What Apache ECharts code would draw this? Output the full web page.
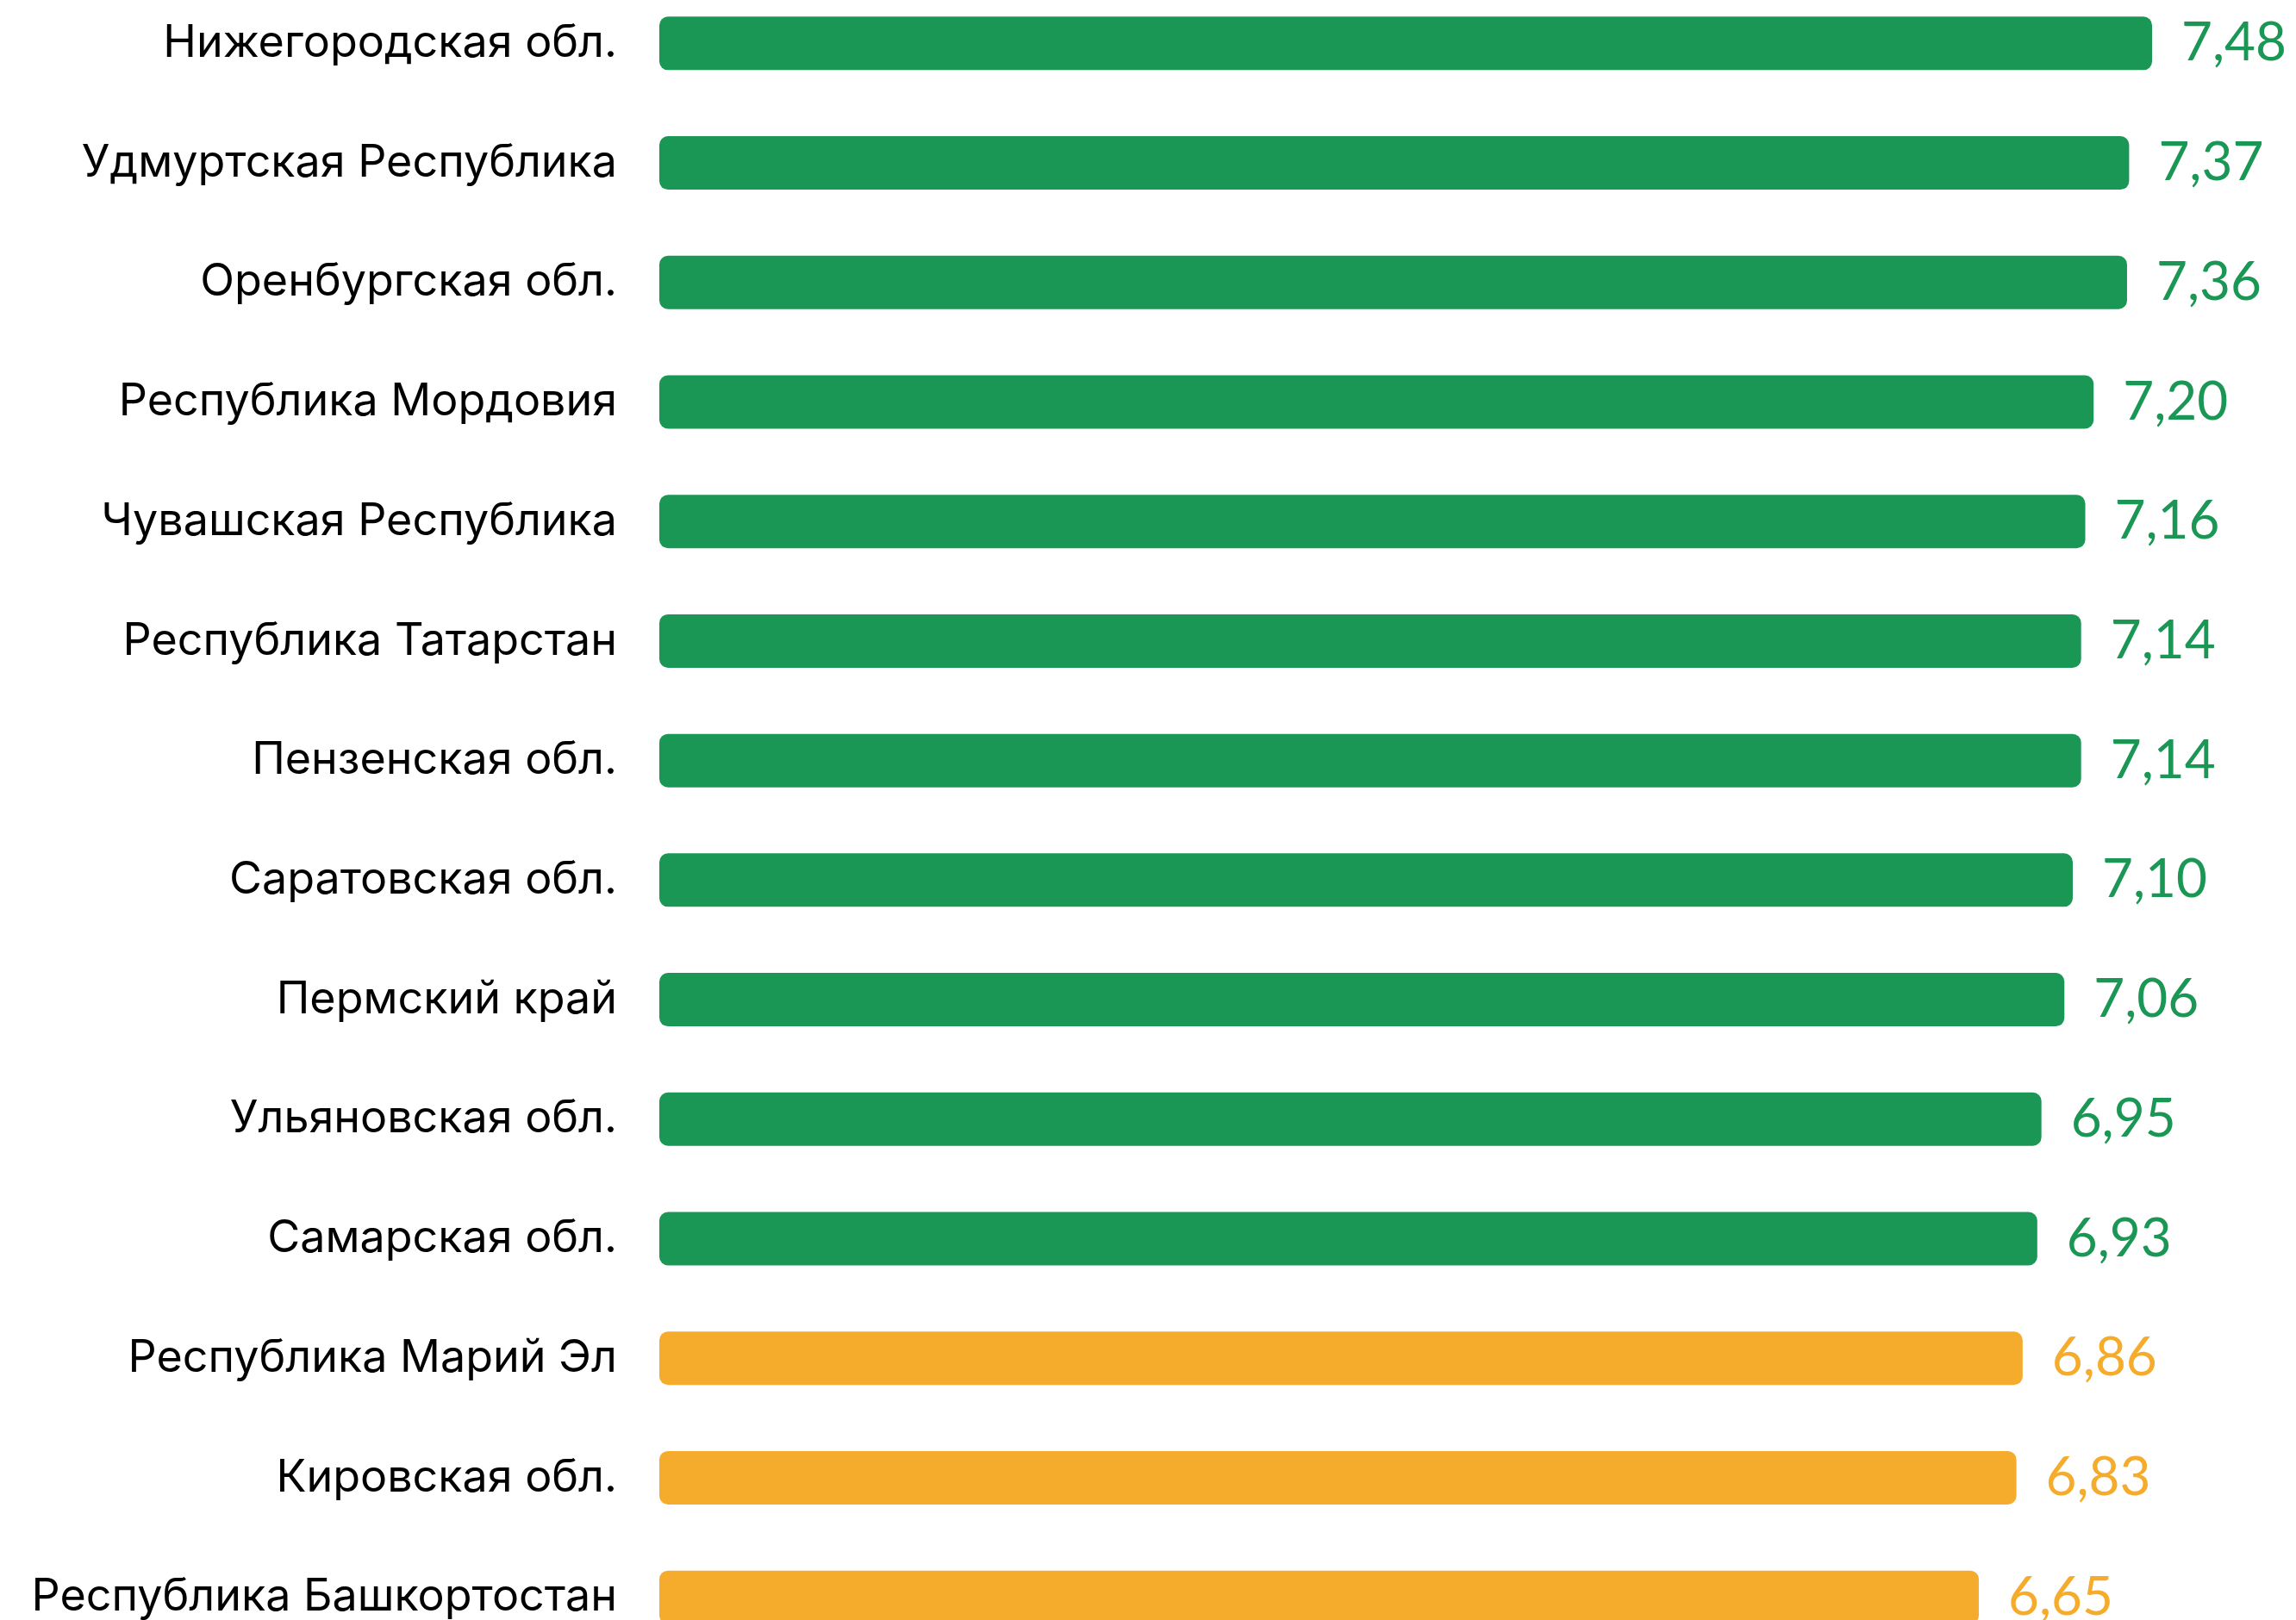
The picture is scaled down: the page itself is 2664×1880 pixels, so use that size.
<!DOCTYPE html>
<html>
<head>
<meta charset="utf-8">
<script src="https://cdn.jsdelivr.net/npm/echarts@6/dist/echarts.min.js"></script>
<style>
  html, body { margin: 0; padding: 0; background: #fff; overflow: hidden; }
  /* график чуть выше и длиннее окна: верх и низ срезаны, как в исходнике */
  #main { position: absolute; left: 0; top: -19px; width: 2664px; height: 1942px; }
</style>
</head>
<body>
<div id="main"></div>
<script>
// регионы сверху вниз
const regions = [
  'Нижегородская обл.',
  'Удмуртская Республика',
  'Оренбургская обл.',
  'Республика Мордовия',
  'Чувашская Республика',
  'Республика Татарстан',
  'Пензенская обл.',
  'Саратовская обл.',
  'Пермский край',
  'Ульяновская обл.',
  'Самарская обл.',
  'Республика Марий Эл',
  'Кировская обл.',
  'Республика Башкортостан'
];
const scores = [7.48, 7.37, 7.36, 7.20, 7.16, 7.14, 7.14, 7.10, 7.06, 6.95, 6.93, 6.86, 6.83, 6.65];
// группа: 1 - зелёная, 2 - оранжевая
const groups = [1, 1, 1, 1, 1, 1, 1, 1, 1, 1, 1, 2, 2, 2];

const GREEN = '#1b9755';
const ORANGE = '#f5ac2d';

const chart = echarts.init(document.getElementById('main'));
chart.setOption({
  animation: false,
  backgroundColor: '#fff',
  grid: { left: 765, right: 41, top: 0, bottom: 0, containLabel: false },
  xAxis: {
    type: 'value',
    min: 0.33,
    max: 8,
    show: false
  },
  yAxis: {
    type: 'category',
    inverse: true,
    data: regions,
    axisLine: { show: false },
    axisTick: { show: false },
    splitLine: { show: false },
    axisLabel: {
      margin: 49,
      color: '#000',
      fontFamily: 'Inter',
      fontSize: 52
    }
  },
  series: [{
    type: 'bar',
    barWidth: 62,
    data: scores.map((v, i) => {
      const c = groups[i] === 1 ? GREEN : ORANGE;
      return { value: v, itemStyle: { color: c }, label: { color: c } };
    }),
    itemStyle: { borderRadius: 10 },
    label: {
      show: true,
      position: 'right',
      distance: 34,
      fontFamily: 'Lato',
      fontSize: 62,
      formatter: p => p.value.toFixed(2).replace('.', ',')
    }
  }]
});
</script>
</body>
</html>
